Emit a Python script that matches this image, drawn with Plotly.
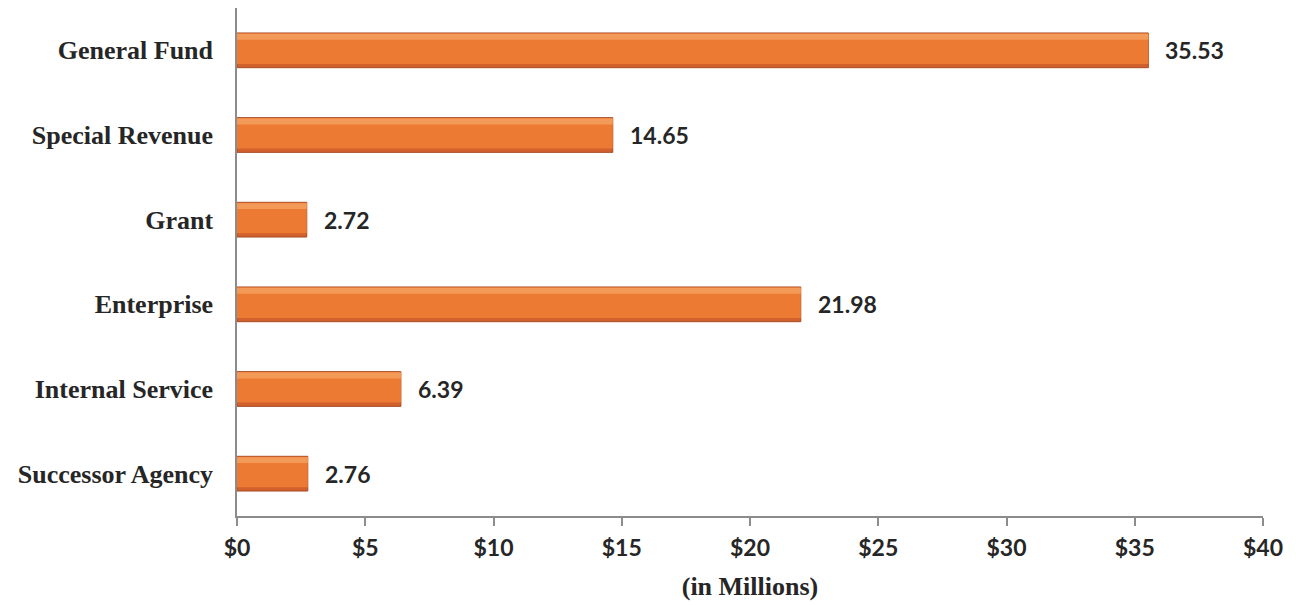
import plotly.graph_objects as go

categories = ["General Fund", "Special Revenue", "Grant", "Enterprise",
              "Internal Service", "Successor Agency"]
values = [35.53, 14.65, 2.72, 21.98, 6.39, 2.76]
tick_vals = [0, 5, 10, 15, 20, 25, 30, 35, 40]
tick_text = ["$0", "$5", "$10", "$15", "$20", "$25", "$30", "$35", "$40"]
x_title = "(in Millions)"

fig = go.Figure()
# base bar (darker bottom edge)
fig.add_trace(go.Bar(
    y=categories, x=values, orientation="h", width=0.41,
    marker=dict(color="#D2602C", line=dict(color="#A84A24", width=1)),
    hoverinfo="skip", showlegend=False,
))
# main body
fig.add_trace(go.Bar(
    y=categories, x=values, orientation="h", width=0.36, offset=-0.16,
    marker=dict(color="#EC7A33", line=dict(width=0)),
    hoverinfo="skip", showlegend=False,
))
# top sheen
fig.add_trace(go.Bar(
    y=categories, x=values, orientation="h", width=0.07, offset=0.125,
    marker=dict(color="#F49A58", line=dict(width=0)),
    hoverinfo="skip", showlegend=False,
))

for c, v in zip(categories, values):
    fig.add_annotation(x=v, y=c, text=f"<b>{v:.2f}</b>", showarrow=False,
                       xanchor="left", xshift=15,
                       font=dict(family="Lato", size=23, color="#262626"))

fig.update_layout(
    width=1296, height=605,
    margin=dict(l=229, r=41, t=0, b=97),
    paper_bgcolor="white", plot_bgcolor="white",
    barmode="overlay",
    xaxis=dict(
        range=[0, 40], tickvals=tick_vals, ticktext=tick_text,
        showgrid=False, zeroline=False,
        showline=True, linecolor="#8C8C8C", linewidth=1.5,
        ticks="outside", ticklen=8, tickcolor="#8C8C8C", tickwidth=1.5,
        ticklabelstandoff=3,
        tickfont=dict(family="Lato", size=23, color="#262626", weight="bold"),
        title=dict(text="<b>" + x_title + "</b>", standoff=16,
                   font=dict(family="Liberation Serif", size=26, color="#262626")),
    ),
    yaxis=dict(
        categoryorder="array", categoryarray=categories[::-1],
        showgrid=False, zeroline=False,
        showline=True, linecolor="#8C8C8C", linewidth=1.5,
        ticks="", ticklabelstandoff=17,
        tickfont=dict(family="Liberation Serif", size=26, color="#262626", weight="bold"),
    ),
)

fig.write_html("out.html")
